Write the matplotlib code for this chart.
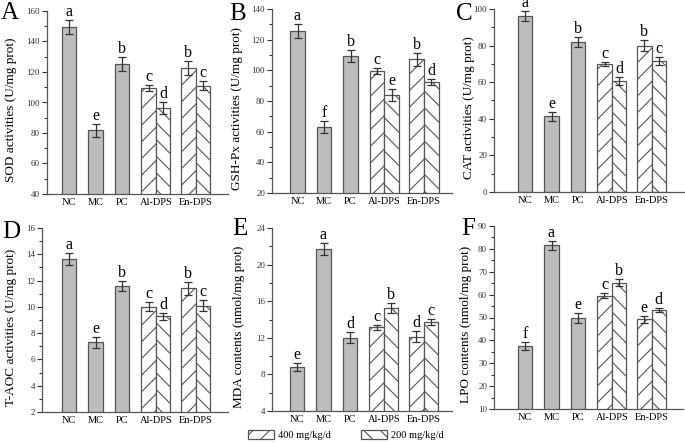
import matplotlib
matplotlib.use('Agg')
import matplotlib.pyplot as plt
from matplotlib.patches import Patch
from matplotlib.ticker import MultipleLocator, AutoMinorLocator

plt.rcParams['font.family'] = ['Liberation Serif', 'DejaVu Serif']
plt.rcParams['hatch.linewidth'] = 0.8

# groups and doses
groups = ['NC', 'MC', 'PC', 'Al-DPS', 'En-DPS']
dose_labels = ['400 mg/kg/d', '200 mg/kg/d']

# bar order: NC, MC, PC, Al-DPS 400, Al-DPS 200, En-DPS 400, En-DPS 200
sod_mean = [149.5, 81.7, 125.2, 109.8, 96.3, 122.4, 111.1]
sod_err = [4.5, 4.0, 4.5, 2.0, 4.0, 4.5, 3.0]
sod_sig = ['a', 'e', 'b', 'c', 'd', 'b', 'c']

gsh_mean = [125.8, 63.1, 109.5, 99.3, 84.0, 107.1, 92.5]
gsh_err = [4.5, 4.0, 4.0, 2.0, 4.0, 4.0, 2.0]
gsh_sig = ['a', 'f', 'b', 'c', 'e', 'b', 'd']

cat_mean = [96.2, 41.3, 81.8, 69.8, 60.5, 79.8, 71.6]
cat_err = [2.8, 2.5, 2.8, 1.2, 2.2, 3.0, 2.0]
cat_sig = ['a', 'e', 'b', 'c', 'd', 'b', 'c']

taoc_mean = [13.65, 7.3, 11.6, 10.0, 9.27, 11.4, 10.1]
taoc_err = [0.45, 0.4, 0.4, 0.35, 0.3, 0.48, 0.45]
taoc_sig = ['a', 'e', 'b', 'c', 'd', 'b', 'c']

mda_mean = [8.8, 21.7, 12.0, 13.15, 15.25, 12.1, 13.7]
mda_err = [0.45, 0.65, 0.6, 0.3, 0.55, 0.6, 0.35]
mda_sig = ['e', 'a', 'd', 'c', 'b', 'd', 'c']

lpo_mean = [37.5, 81.6, 49.8, 59.6, 65.3, 49.2, 53.2]
lpo_err = [1.8, 2.0, 2.0, 1.0, 1.5, 1.5, 1.0]
lpo_sig = ['f', 'a', 'e', 'c', 'b', 'e', 'd']

W, H = 685, 443
fig = plt.figure(figsize=(W / 100, H / 100), dpi=100)

bar_x = [1, 2, 3, 4, 4.55, 5.5, 6.05]
group_x = [1, 2, 3, 4.275, 5.775]
bar_w = 0.55
hatches = [None, None, None, '//', '\\\\', '//', '\\\\']
faces = ['#bdbdbd'] * 3 + ['white'] * 4
edge = '#555555'
step = 26.5  # pixels per category

panels = [
    # letter, ylabel, mean, err, sig, ylim, major, (left, right, top, bottom, nc centre), label x, letter xy
    ('A', 'SOD activities (U/mg prot)', sod_mean, sod_err, sod_sig, (40, 160), 20,
     (47, 228, 11, 194, 69), 12, (1, 2)),
    ('B', 'GSH-Px activities (U/mg prot)', gsh_mean, gsh_err, gsh_sig, (20, 140), 20,
     (272, 452, 9, 193, 297.5), 238, (229, 3)),
    ('C', 'CAT activities (U/mg prot)', cat_mean, cat_err, cat_sig, (0, 100), 20,
     (494, 684, 9, 192, 525), 470, (456, 3)),
    ('D', 'T-AOC activities (U/mg prot)', taoc_mean, taoc_err, taoc_sig, (2, 16), 2,
     (42, 228, 228, 412, 69), 12, (2, 221)),
    ('E', 'MDA contents (nmol/mg prot)', mda_mean, mda_err, mda_sig, (4, 24), 4,
     (272, 452, 228, 411, 297), 240, (232, 218)),
    ('F', 'LPO contents (nmol/mg prot)', lpo_mean, lpo_err, lpo_sig, (10, 90), 10,
     (494, 683, 226, 409, 525), 467, (461, 218)),
]

for letter, ylabel, mean, err, sig, ylim, major, box, lab_x, let_xy in panels:
    l, r, t, b, c = box
    ax = fig.add_axes([l / W, 1 - b / H, (r - l) / W, (b - t) / H])
    for i in range(len(mean)):
        ax.bar(bar_x[i], mean[i], bar_w, color=faces[i], edgecolor=edge,
               linewidth=0.9, hatch=hatches[i], zorder=2)
    ax.errorbar(bar_x, mean, yerr=err, fmt='none', ecolor='#333333',
                elinewidth=0.9, capsize=3, capthick=0.9, zorder=3)
    for x, m, e, s in zip(bar_x, mean, err, sig):
        ax.annotate(s, (x, m + e), xytext=(0, 0), textcoords='offset points',
                    ha='center', va='bottom', fontsize=11.5, annotation_clip=False)
    ax.set_xlim(1 - (c - l) / step, 1 + (r - c) / step)
    ax.set_ylim(*ylim)
    ax.yaxis.set_major_locator(MultipleLocator(major))
    ax.yaxis.set_minor_locator(AutoMinorLocator(2))
    ax.set_xticks(group_x)
    ax.set_xticklabels(groups, fontsize=7.5)
    ax.tick_params(axis='x', length=0, pad=3)
    ax.tick_params(axis='y', which='major', length=3.5, width=0.8, labelsize=6.5,
                   pad=1.5, colors='#333333')
    ax.tick_params(axis='y', which='minor', length=2, width=0.8, colors='#333333')
    for side in ['top', 'right']:
        ax.spines[side].set_visible(False)
    for side in ['left', 'bottom']:
        ax.spines[side].set_color('#555555')
        ax.spines[side].set_linewidth(0.9)
    ax.set_ylabel(ylabel, fontsize=9.5)
    # label anchor sits on its right edge once rotated
    ax.yaxis.set_label_coords((lab_x + 5 - l) / (r - l), 0.46)
    fig.text(let_xy[0] / W, 1 - let_xy[1] / H, letter, fontsize=18,
             ha='left', va='top')

handles = [Patch(facecolor='white', edgecolor=edge, hatch='//', linewidth=0.9),
           Patch(facecolor='white', edgecolor=edge, hatch='\\\\', linewidth=0.9)]
fig.legend(handles, dose_labels, loc='center', bbox_to_anchor=(346 / W, 1 - 435 / H),
           ncol=2, frameon=False, fontsize=7.5, handlelength=2.5, handleheight=1.05,
           handletextpad=0.35, columnspacing=2.9, borderpad=0)

fig.savefig('out.png', dpi=100)
